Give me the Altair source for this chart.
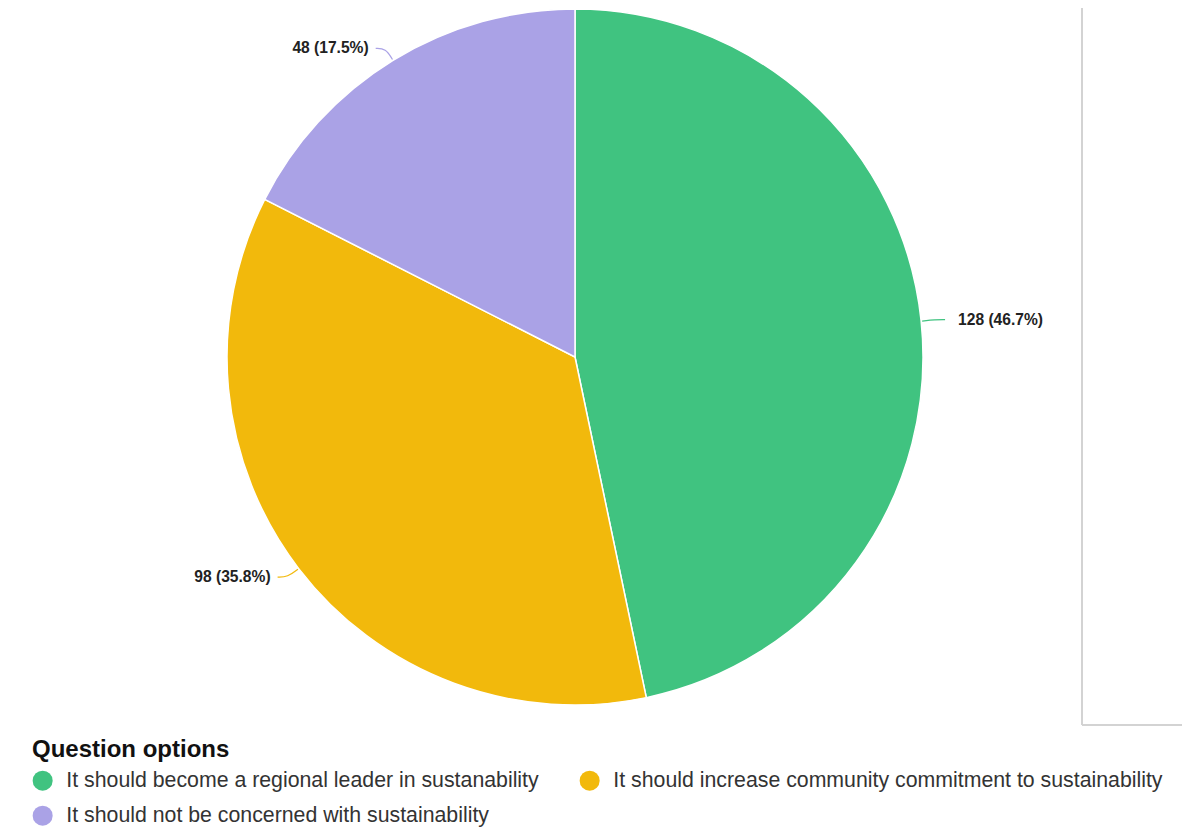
import math
import altair as alt
import pandas as pd

categories = [
    "It should become a regional leader in sustanability",
    "It should increase community commitment to sustainability",
    "It should not be concerned with sustainability",
]
counts = [128, 98, 48]
palette = ["#40C380", "#F2B90C", "#AAA2E6"]

CX, CY, R = 567, 349, 348
FONT = "Liberation Sans"

total = sum(counts)
df = pd.DataFrame({"option": categories, "count": counts, "idx": list(range(len(categories)))})

rows_line, rows_lbl = [], []
cum = 0
for c, n in zip(categories, counts):
    mid = 2 * math.pi * (cum + n / 2) / total
    cum += n
    side = 1 if math.sin(mid) >= 0 else -1

    def pt(r):
        return CX + r * math.sin(mid), CY - r * math.cos(mid)

    x0, y0 = pt(R + 1)
    x1, y1 = pt(R + 14)
    x2, y2 = x1 + side * 10, y1
    rows_line += [
        dict(option=c, step=0, px=x0, py=y0),
        dict(option=c, step=1, px=x1, py=y1),
        dict(option=c, step=2, px=x2, py=y2),
    ]
    rows_lbl.append(dict(option=c, side="right" if side > 0 else "left",
                         px=x2 + (13 if side > 0 else -7), py=y2,
                         label=f"{n} ({100 * n / total:.1f}%)"))

df_line = pd.DataFrame(rows_line)
df_lbl = pd.DataFrame(rows_lbl)

color = alt.Color(
    "option:N",
    scale=alt.Scale(domain=categories, range=palette),
    legend=alt.Legend(
        title="Question options", orient="none", legendX=24, legendY=730,
        direction="horizontal", columns=2, symbolType="circle", symbolSize=400,
        symbolStrokeWidth=0, symbolOpacity=1, labelFontSize=21.3, labelColor="#333333",
        labelFont=FONT, titleFontSize=24, titleFontWeight="bold", titleColor="#111111",
        titleFont=FONT, titleLimit=600, columnPadding=40, rowPadding=13, labelOffset=13,
        titlePadding=8, labelLimit=0,
    ),
)

pie = alt.Chart(df).mark_arc(radius=R, stroke="white", strokeWidth=1.5).encode(
    theta=alt.Theta("count:Q", stack=True),
    order=alt.Order("idx:Q"),
    color=color,
    x=alt.value(CX),
    y=alt.value(CY),
)

leaders = alt.Chart(df_line).mark_line(strokeWidth=1.2, interpolate="basis").encode(
    x=alt.X("px:Q", scale=None),
    y=alt.Y("py:Q", scale=None),
    detail="option:N",
    order="step:Q",
    stroke=alt.Stroke("option:N", scale=alt.Scale(domain=categories, range=palette), legend=None),
)

lbl_right = alt.Chart(df_lbl).transform_filter(alt.datum.side == "right").mark_text(
    align="left", baseline="middle", fontSize=15.6, fontWeight="bold", font=FONT, color="#222222"
).encode(x=alt.X("px:Q", scale=None), y=alt.Y("py:Q", scale=None), text="label:N")

lbl_left = alt.Chart(df_lbl).transform_filter(alt.datum.side == "left").mark_text(
    align="right", baseline="middle", fontSize=15.6, fontWeight="bold", font=FONT, color="#222222"
).encode(x=alt.X("px:Q", scale=None), y=alt.Y("py:Q", scale=None), text="label:N")

border_v = alt.Chart(df).mark_rule(color="#d2d2d2", strokeWidth=1.5).encode(
    x=alt.value(1074), y=alt.value(0), y2=alt.value(717)
)
border_h = alt.Chart(df).mark_rule(color="#d2d2d2", strokeWidth=1.5).encode(
    x=alt.value(1074), x2=alt.value(1174), y=alt.value(717)
)

chart = alt.layer(border_v, border_h, pie, leaders, lbl_right, lbl_left).properties(
    width=1177, height=819, padding=0, autosize=alt.AutoSizeParams(type="none"),
    background="white",
).configure_view(stroke=None)

chart.save("out.html", embed_options={"renderer": "svg", "actions": False})
